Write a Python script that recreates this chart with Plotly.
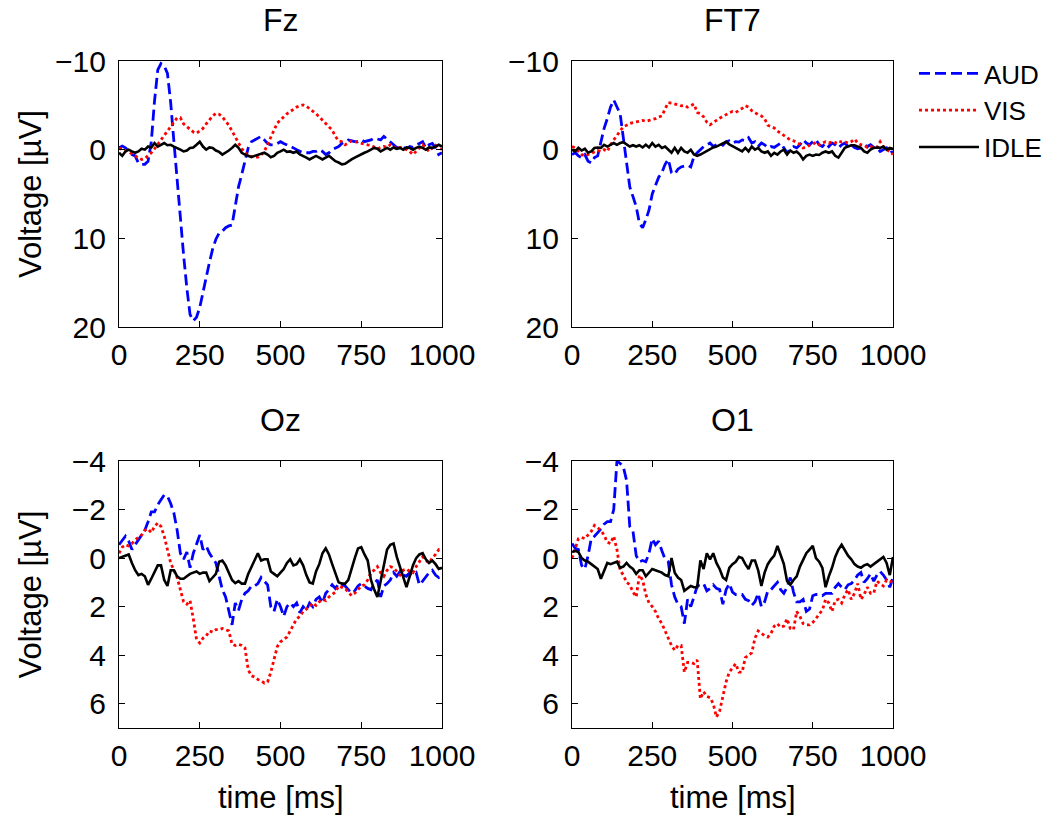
import plotly.graph_objects as go

time_ms = list(range(0, 1001, 10))

fz_aud = [-0.2, -0.4, -0.2, 0.2, 0.55, 0.7, 1.5, 1.65, 1.65, 1.3,
          -0.9, -5.5, -9.0, -9.7, -9.45, -8.6, -5.3, -0.9, 3.5, 7.9,
          11.9, 15.6, 18.6, 19.3, 18.9, 17.8, 16.0, 14.2, 12.7, 11.2,
          10.1, 9.4, 9.2, 8.8, 8.6, 8.5, 6.1, 4.2, 2.8, 1.1,
          -0.2, -0.9, -1.1, -1.3, -1.5, -1.1, -0.7, -0.55, -0.55, -0.7,
          -0.9, -0.7, -0.55, -0.4, -0.2, 0, 0.2, 0.35, 0.35, 0.35,
          0.2, 0.2, 0, 0.2, 0.55, 0.35, 0, -0.2, -0.35, -0.7,
          -0.9, -1.1, -1.0, -0.9, -0.9, -1.1, -0.9, -1.0, -1.1, -1.3,
          -1.2, -1.1, -1.5, -1.2, -0.9, -0.55, -0.25, -0.2, -0.25, -0.1,
          -0.35, -0.25, -0.55, -0.7, -0.9, -0.2, -0.55, -0.7, -0.2, 0.55,
          0.35]
fz_vis = [-0.2, 0, 0.1, 0.2, 0.5, 0.7, 0.9, 1.1, 1.0, 0.7,
          0.35, -0.1, -0.6, -1.1, -1.6, -2.1, -2.6, -3.1, -3.6, -3.6,
          -2.9, -2.6, -2.3, -2.0, -1.85, -2.1, -2.4, -2.9, -3.4, -3.8,
          -4.1, -4.0, -3.7, -3.2, -2.75, -2.1, -1.4, -0.7, -0.1, 0.3,
          0.7, 0.75, 0.85, 0.85, 0.6, 0.2, -0.6, -1.5, -2.4, -3.0,
          -3.35, -3.75, -4.05, -4.3, -4.6, -4.8, -4.95, -5.05, -4.9, -4.65,
          -4.35, -4.05, -3.7, -3.3, -3.0, -2.6, -2.2, -1.5, -1.0, -0.9,
          -0.55, -0.75, -1.0, -0.9, -0.8, -0.75, -0.6, -0.55, -0.5, -0.25,
          -0.1, -0.25, -0.35, -0.25, -0.55, -0.35, -0.1, -0.25, -0.2, 0,
          0.2, 0.55, 0.2, -0.25, -0.55, -0.2, 0.2, -0.2, -0.5, -0.25,
          0]
fz_idle = [0.35, 0.7, 0.2, 0, 0.2, 0.35, 0.2, -0.1, 0, -0.35,
           -0.25, -0.75, -0.35, -0.55, -0.75, -0.5, -0.55, -0.35, -0.2, 0,
           0.2, 0.1, -0.2, -0.25, -0.55, -0.9, -0.35, 0, -0.25, -0.2,
           0.1, 0.25, 0.55, 0.35, 0.1, -0.2, -0.55, -0.2, 0.35, 0.55,
           0.7, 0.85, 0.7, 0.6, 0.5, 0.35, 0.55, 0.85, 0.7, 0.35,
           0.2, 0, 0.25, 0.2, 0.35, 0.2, 0.55, 0.7, 0.9, 1.1,
           0.9, 0.7, 0.9, 1.1, 0.9, 0.7, 1.0, 1.3, 1.45, 1.65,
           1.6, 1.3, 1.1, 0.9, 0.7, 0.55, 0.35, 0.2, 0, -0.2,
           -0.1, 0.2, 0, -0.2, 0, -0.25, -0.1, -0.2, 0, -0.25,
           -0.2, 0, -0.2, -0.35, -0.2, 0, -0.25, -0.2, -0.35, -0.55,
           -0.35]

ft7_aud = [0.55, 0.35, 0.7, 0.9, 0.55, 1.3, 1.5, 0.9, 0.7, -0.9,
           -2.4, -3.5, -4.8, -5.6, -4.8, -4.05, -1.3, 1.3, 4.2, 5.3,
           6.4, 8.3, 8.8, 7.9, 6.8, 5.0, 4.0, 3.1, 2.6, 1.65,
           1.1, 2.6, 2.75, 2.2, 1.95, 1.85, 1.75, 1.95, 0.75, 0.35,
           0, -0.35, -0.55, -0.75, -0.35, -0.55, -0.75, -0.5, -0.9, -1.0,
           -0.75, -0.9, -0.85, -1.1, -1.0, -1.35, -0.75, -0.9, -0.35, -0.75,
           -0.55, -0.2, -0.35, -0.25, -0.5, -0.75, -0.2, 0.35, 0, -0.35,
           -0.2, -0.55, -1.1, -0.75, -0.55, -0.9, -1.1, -0.55, -0.35, -0.75,
           -0.35, -0.75, -0.55, -0.2, -0.55, -0.75, -0.35, -0.55, -0.25, -0.1,
           -0.2, -0.55, -0.35, -0.55, -0.25, -0.2, 0.2, 0, -0.2, 0.35,
           0.2]
ft7_vis = [-0.35, -0.2, 0.2, 0.55, 0.7, 0.55, 0.35, 0.2, 0.1, 0.2,
           0, 0.2, -0.55, -1.1, -1.65, -2.2, -2.6, -2.75, -2.95, -3.05,
           -3.1, -3.2, -3.3, -3.2, -3.3, -3.4, -3.5, -3.7, -3.8, -4.6,
           -5.3, -5.25, -5.15, -5.0, -4.95, -5.0, -4.8, -4.95, -5.15, -4.2,
           -4.05, -3.7, -3.1, -2.8, -3.1, -3.3, -3.55, -3.8, -3.95, -4.15,
           -4.3, -4.2, -4.4, -4.65, -4.95, -4.8, -4.4, -4.15, -3.95, -3.8,
           -3.5, -2.75, -2.6, -2.45, -2.1, -1.85, -1.6, -1.3, -1.1, -1.0,
           -0.75, -0.6, -0.2, -0.25, -0.5, -0.6, -0.85, -0.55, -0.75, -0.9,
           -0.75, -0.9, -0.75, -1.0, -0.85, -0.9, -0.75, -0.9, -1.2, -0.75,
           -0.55, -0.5, -0.25, -0.35, -0.2, -0.25, -0.9, -0.35, 0, 0.2,
           0.55]
ft7_idle = [0, 0.2, -0.2, 0.1, -0.1, 0.35, 0.2, -0.2, -0.25, -0.2,
            -0.55, -0.35, -0.55, -0.75, -0.55, -0.75, -0.85, -0.55, -0.35, -0.5,
            -0.35, -0.5, -0.25, -0.55, -0.25, -0.75, -0.35, -0.55, -0.2, -0.35,
            0, 0.35, -0.2, 0.35, -0.2, 0.2, 0.35, 0, 0.55, 0.7,
            0.55, 0.35, 0.2, 0, -0.25, -0.35, -0.55, -0.75, -0.9, -0.6,
            -0.35, -0.2, 0, 0.2, -0.2, 0.2, -0.35, 0, -0.2, 0.2,
            0.35, 0.2, 0.7, 0.35, 0.55, 0.2, 0, 0.55, 0.1, 0.35,
            0.2, 0.55, 1.1, 0.7, 0.55, 0.7, 0.55, 0.6, 0.35, 0.2,
            0.35, 0.2, 0.7, 0.9, 0.35, -0.2, -0.35, -0.5, -0.5, -0.35,
            -0.2, 0.2, 0.35, 0, -0.2, -0.25, -0.2, -0.35, 0, -0.2,
            -0.1]

oz_aud = [-0.55, -0.75, -0.9, -0.7, -0.35, -0.55, -0.75, -0.95, -1.15, -1.5,
          -1.9, -1.9, -2.2, -2.4, -2.6, -2.55, -2.25, -1.85, -1.15, -0.2,
          0.05, -0.25, 0.4, -0.2, -0.6, -0.95, -0.35, -0.5, -0.2, 0,
          0.2, 0.75, 1.3, 1.6, 2.15, 2.75, 1.85, 2.15, 1.7, 1.45,
          1.35, 1.15, 1.15, 1.05, 0.8, 0.95, 1.1, 2.0, 2.2, 1.7,
          2.0, 2.4, 2.0, 1.85, 2.0, 1.85, 2.25, 2.0, 2.15, 1.85,
          2.0, 1.7, 1.6, 1.85, 1.45, 1.3, 1.1, 1.25, 1.05, 1.1,
          1.15, 1.3, 1.45, 1.35, 1.15, 1.05, 1.15, 1.25, 1.3, 1.05,
          0.9, 1.6, 1.15, 1.05, 0.9, 0.6, 0.75, 0.55, 0.7, 0.75,
          0.6, 0.7, 0.6, 1.1, 0.95, 0.75, 0.6, 0.5, 0.7, 0.8,
          0.7]
oz_vis = [-0.2, -0.45, -0.55, -0.5, -0.6, -0.75, -0.85, -0.95, -1.15, -1.2,
          -1.05, -1.3, -1.45, -1.3, -0.9, -0.3, 0.2, 0.5, 0.8, 1.3,
          1.8, 1.9, 1.75, 2.5, 3.35, 3.5, 3.3, 3.2, 3.0, 3.05,
          2.95, 2.95, 2.9, 2.95, 3.0, 3.55, 3.6, 3.55, 3.6, 3.7,
          4.6, 4.85, 4.9, 5.0, 5.05, 5.15, 5.1, 4.7, 4.2, 3.65,
          3.45, 3.35, 3.25, 3.0, 2.75, 2.5, 2.4, 2.2, 2.1, 2.0,
          1.85, 1.95, 1.8, 1.7, 1.75, 1.6, 1.5, 1.4, 1.15, 1.2,
          1.25, 1.4, 1.55, 1.45, 1.3, 1.15, 1.1, 0.9, 0.6, 0.5,
          0.35, 0.6, 0.75, 0.5, 0.35, 0.4, 0.55, 0.7, 0.5, 0.45,
          0.55, 0.6, 0.35, 0.15, -0.05, 0.1, 0.2, 0.0, -0.15, -0.35,
          -0.3]
oz_idle = [0, -0.05, -0.1, -0.15, 0.2, 0.5, 0.7, 0.65, 0.75, 1.1,
           0.85, 0.55, 0.3, 0.3, 0.9, 1.15, 0.5, 0.5, 0.75, 0.85,
           0.85, 0.75, 0.65, 0.6, 0.55, 0.65, 0.6, 0.6, 0.95, 0.8,
           0.65, 0.15, 0.1, 0.3, 0.6, 0.9, 1.03, 0.95, 1.05, 1.05,
           0.65, 0.35, 0.1, -0.2, 0.1, 0.05, 0.05, 0.55, 0.65, 0.75,
           0.6, 0.45, 0.2, 0.05, 0.3, 0.25, 0.05, 0.3, 0.7, 1.0,
           1.05, 0.55, 0.25, -0.2, -0.4, -0.15, 0.25, 0.6, 1.0, 1.05,
           1.05, 0.9, 0.4, 0.0, -0.4, -0.45, -0.15, 0.1, 0.9, 1.3,
           1.6, 0.9, 0.2, -0.35, -0.55, -0.6, -0.05, 0.35, 0.8, 1.2,
           0.75, 0.3, 0.0, -0.15, -0.2, 0.05, 0.2, 0.1, 0.25, 0.45,
           0.4]

o1_aud = [-0.6, -0.4, -0.35, 0.3, 0.45, -0.1, -0.8, -0.9, -1.05, -1.2,
          -1.4, -1.5, -1.5, -2.0, -4.0, -3.9, -3.75, -3.2, -1.3, -1.1,
          -0.1, 0.15, 0.1, 0.15, -0.2, -0.8, -0.55, -0.7, -0.3, 0.05,
          0.15, 1.1, 1.6, 1.9, 2.0, 2.7, 1.7, 2.0, 1.6, 1.15,
          1.1, 1.05, 1.35, 1.25, 1.1, 1.25, 1.3, 1.9, 1.3, 1.05,
          1.4, 1.5, 1.5, 1.5, 1.7, 1.75, 1.95, 1.8, 1.45, 2.0,
          1.8, 1.35, 1.3, 1.15, 1.0, 1.3, 1.45, 1.2, 0.8, 1.4,
          1.8, 1.8, 1.7, 2.2, 2.1, 1.55, 1.5, 1.5, 1.55, 1.45,
          1.45, 1.45, 1.2, 1.05, 1.2, 1.3, 1.1, 1.05, 0.9, 0.7,
          0.6, 1.0, 0.85, 0.65, 0.95, 0.7, 0.55, 0.7, 0.9, 1.2,
          0.8]
o1_vis = [0, -0.45, -0.8, -0.85, -0.8, -0.95, -1.1, -1.35, -1.25, -1.15,
          -0.95, -0.65, -0.6, -0.9, -0.35, 0.5, 0.7, 1.0, 1.1, 1.4,
          1.6, 0.7, 0.9, 1.5, 1.85, 2.0, 2.2, 2.5, 2.7, 3.0,
          3.3, 3.6, 3.8, 3.6, 3.6, 4.7, 4.3, 4.3, 4.35, 4.2,
          5.8, 5.5, 5.7, 5.75, 6.0, 6.55, 6.3, 5.7, 5.1, 4.7,
          4.5, 4.35, 4.7, 4.7, 4.1, 4.0, 3.9, 3.3, 3.0, 3.1,
          3.2, 3.25, 3.1, 2.8, 2.7, 2.85, 2.8, 2.5, 2.9, 2.95,
          2.2, 2.4, 2.7, 2.75, 2.75, 2.65, 2.5, 2.3, 2.15, 1.7,
          1.85, 2.2, 1.75, 1.7, 1.85, 1.5, 1.3, 1.7, 1.45, 1.05,
          1.7, 1.5, 1.2, 1.45, 1.45, 0.95, 1.05, 1.15, 0.9, 0.95,
          1.0]
o1_idle = [-0.25, -0.3, -0.25, 0.0, 0.1, 0.15, 0.25, 0.35, 0.45, 0.85,
           0.5, 0.2, 0.25, 0.2, 0.15, 0.4, 0.35, 0.2, 0.35, 0.45,
           0.65, 0.5, 0.5, 0.75, 0.6, 0.45, 0.5, 0.55, 0.6, 0.7,
           0.75, 0.0, 0.6, 0.8, 0.9, 1.35, 1.25, 1.15, 1.2, 1.2,
           0.1, 0.45, -0.2, 0.05, -0.2, 0.2, 0.45, 0.8, 0.9, 0.4,
           0.25, 0.15, -0.05, 0.0, 0.25, 0.45, 0.1, 0.1, 0.5, 1.15,
           0.6, 0.25, 0.05, -0.1, -0.5, -0.1, 0.25, 0.95, 1.1, 0.9,
           0.75, 0.35, 0.05, -0.2, -0.35, -0.5, 0.0, 0.15, 0.4, 1.2,
           0.75, 0.4, -0.05, -0.35, -0.55, -0.3, -0.1, 0.05, 0.25, 0.35,
           0.4, 0.3, 0.25, 0.35, 0.25, 0.15, 0.05, -0.05, 0.2, 0.7,
           -0.05]

panel_titles = ["Fz", "FT7", "Oz", "O1"]
series_names = ["AUD", "VIS", "IDLE"]
x_ticks = [0, 250, 500, 750, 1000]
x_tick_text = ["0", "250", "500", "750", "1000"]
top_y_ticks = [-10, 0, 10, 20]
top_y_text = ["\u221210", "0", "10", "20"]
bot_y_ticks = [-4, -2, 0, 2, 4, 6]
bot_y_text = ["\u22124", "\u22122", "0", "2", "4", "6"]

panels = [
    (fz_aud, fz_vis, fz_idle),
    (ft7_aud, ft7_vis, ft7_idle),
    (oz_aud, oz_vis, oz_idle),
    (o1_aud, o1_vis, o1_idle),
]

W, H = 1051, 816
col_px = [(119, 442), (572, 893)]
row_px = [(61, 327), (461, 728)]

FONT = "Liberation Sans, Arial, Helvetica, sans-serif"
styles = [
    dict(color="#0000ff", width=2.8, dash="11px,5px"),
    dict(color="#ff0000", width=2.8, dash="3px,3px"),
    dict(color="#000000", width=2.6, dash="solid"),
]

fig = go.Figure()
layout = {}
annotations = []
for i, data in enumerate(panels):
    r, c = divmod(i, 2)
    ax = "" if i == 0 else str(i + 1)
    for k, (vals, st) in enumerate(zip(data, styles)):
        fig.add_trace(go.Scatter(
            x=time_ms, y=vals, mode="lines", name=series_names[k],
            line=st, xaxis="x" + ax, yaxis="y" + ax,
            showlegend=(i == 0),
        ))
    x0, x1 = col_px[c]
    y0, y1 = row_px[r]
    common = dict(showline=True, linecolor="black", linewidth=1.3, mirror="ticks",
                  ticks="inside", ticklen=6, tickcolor="black", tickwidth=1,
                  showgrid=False, zeroline=False,
                  tickfont=dict(family=FONT, size=30, color="black"))
    layout["xaxis" + ax] = dict(common, domain=[x0 / W, x1 / W], range=[0, 1000],
                                tickvals=x_ticks, ticktext=x_tick_text,
                                anchor="y" + ax, ticklabelstandoff=1)
    if r == 0:
        yr, tv, tt = [20, -10], top_y_ticks, top_y_text
    else:
        yr, tv, tt = [7, -4], bot_y_ticks, bot_y_text
    layout["yaxis" + ax] = dict(common, domain=[1 - y1 / H, 1 - y0 / H], range=yr,
                                tickvals=tv, ticktext=tt, anchor="x" + ax,
                                ticklabelstandoff=6)
    tx = (x0 + x1) / 2 / W
    ty = 1 - (y0 - 41) / H
    annotations.append(dict(text=panel_titles[i], x=tx, y=ty, xref="paper", yref="paper",
                            showarrow=False, xanchor="center", yanchor="middle",
                            font=dict(family=FONT, size=32, color="black")))
    if c == 0:
        annotations.append(dict(text="Voltage [\u00b5V]", x=30 / W, y=1 - (y0 + y1) / 2 / H,
                                xref="paper", yref="paper", showarrow=False, textangle=-90,
                                xanchor="center", yanchor="middle",
                                font=dict(family=FONT, size=31, color="black")))
    if r == 1:
        annotations.append(dict(text="time [ms]", x=tx, y=1 - 797 / H,
                                xref="paper", yref="paper", showarrow=False,
                                xanchor="center", yanchor="middle",
                                font=dict(family=FONT, size=31, color="black")))

fig.update_layout(
    **layout,
    annotations=annotations,
    width=W, height=H,
    margin=dict(l=0, r=0, t=0, b=0, autoexpand=False),
    paper_bgcolor="white", plot_bgcolor="white",
    font=dict(family=FONT, color="black"),
    legend=dict(x=914 / W, y=1 - 50 / H, xanchor="left", yanchor="top",
                font=dict(family=FONT, size=26, color="black"),
                itemwidth=60,
                bgcolor="rgba(0,0,0,0)", tracegroupgap=0),
    showlegend=True,
)

fig.write_html("out.html")
